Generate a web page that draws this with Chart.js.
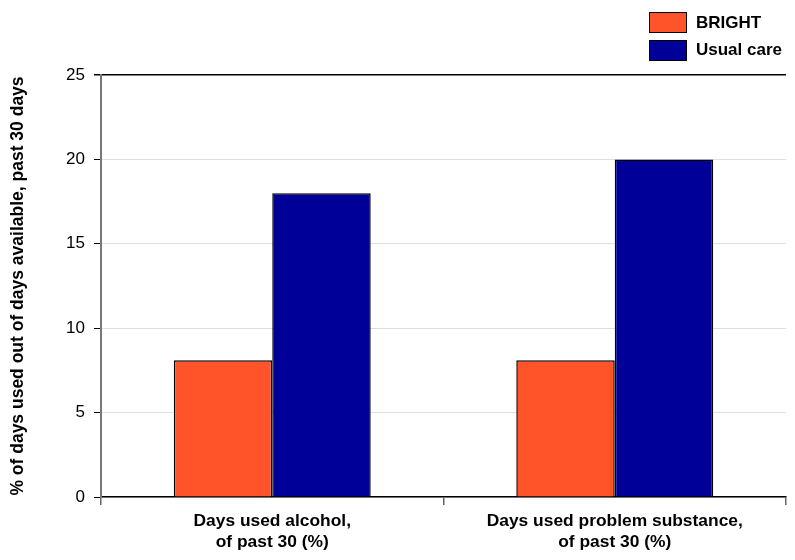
<!DOCTYPE html>
<html>
<head>
<meta charset="utf-8">
<script src="https://cdn.jsdelivr.net/npm/chart.js@4"></script>
<style>
  body { margin: 0; background: #fff; }
  #wrap { position: relative; width: 795px; height: 560px; }
  #legend { position: absolute; left: 649px; top: 9px; font: bold 17px "Liberation Sans", Arial, sans-serif; color: #000; }
  #legend div { display: flex; align-items: center; height: 27.5px; }
  #legend span.box { display: inline-block; width: 36px; height: 19px; border: 1.5px solid #000; margin-right: 9px; }
</style>
</head>
<body>
<div id="wrap">
  <canvas id="chart" width="795" height="560"></canvas>
  <div id="legend"></div>
</div>
<script>
let categories = [["Days used alcohol,", "of past 30 (%)"], ["Days used problem substance,", "of past 30 (%)"]];
let seriesNames = ["BRIGHT", "Usual care"];
let bright = [8.1, 8.1];
let usualCare = [18, 20];
let yTicks = [0, 5, 10, 15, 20, 25];
let colors = ["#FF5329", "#000099"];

let font = "'Liberation Sans', Arial, sans-serif";

// legend (vertical, top right)
let legend = document.getElementById("legend");
seriesNames.forEach((name, i) => {
    let row = document.createElement("div");
    row.innerHTML = `<span class="box" style="background:${colors[i]}"></span>${name}`;
    legend.appendChild(row);
});

let ctx = document.getElementById("chart").getContext("2d");
let chart = new Chart(ctx, {
    type: "bar",
    data: {
        labels: categories,
        datasets: [
            { label: seriesNames[0], data: bright, backgroundColor: colors[0], borderColor: "#000", borderWidth: 1.5 },
            { label: seriesNames[1], data: usualCare, backgroundColor: colors[1], borderColor: "#000", borderWidth: 1.5 }
        ]
    },
    options: {
        responsive: false,
        animation: false,
        layout: { padding: { top: 75, right: 9, left: 0, bottom: 0 } },
        datasets: { bar: { categoryPercentage: 0.575, barPercentage: 1 } },
        plugins: { legend: { display: false }, tooltip: { enabled: false } },
        scales: {
            x: {
                grid: { drawOnChartArea: false, tickLength: 8, tickColor: "#666", lineWidth: 1.5 },
                border: { color: "#000", width: 1.5 },
                ticks: { color: "#000", font: { family: font, size: 17.4, weight: "bold", lineHeight: 1.25 }, padding: 5, maxRotation: 0 },
                afterFit: (s) => { s.height = 63; }
            },
            y: {
                min: 0,
                max: 25,
                afterBuildTicks: (s) => { s.ticks = yTicks.map(v => ({ value: v })); },
                grid: {
                    color: (c) => c.tick && c.tick.value === 25 ? "#000" : "#ddd",
                    tickColor: "#000",
                    tickLength: 7,
                    lineWidth: (c) => c.tick && c.tick.value === 25 ? 1.5 : 1
                },
                border: { color: "#777", width: 2 },
                ticks: { color: "#000", font: { family: font, size: 17 }, padding: 9 },
                title: {
                    display: true,
                    text: "% of days used out of days available, past 30 days",
                    color: "#000",
                    font: { family: font, size: 17.5, weight: "bold" },
                    padding: { top: 8, bottom: 6 }
                },
                afterFit: (s) => { s.width = 101; }
            }
        }
    }
});
</script>
</body>
</html>
